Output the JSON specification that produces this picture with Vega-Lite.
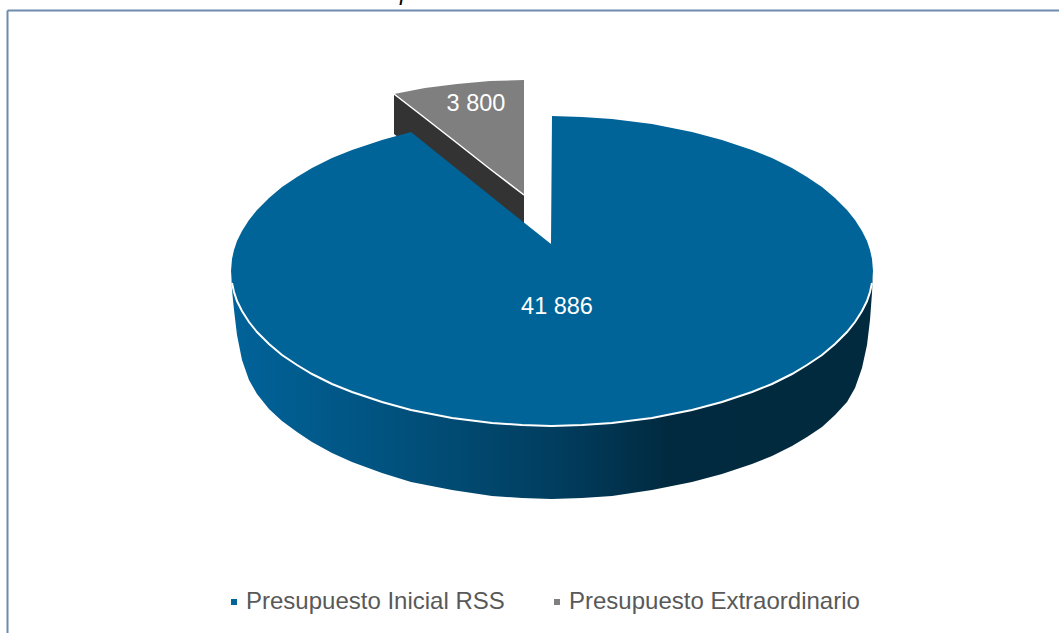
{
"$schema":"https://vega.github.io/schema/vega-lite/v6.json",
"width":1052,"height":623,
"padding":{"left":7,"top":10,"right":0,"bottom":0},
"autosize":{"type":"none"},
"background":"white",
"config":{"view":{"stroke":null},"font":"Liberation Sans"},
"datasets":{
"outline":[
{"slice":"Presupuesto Inicial RSS","x":231,"top":271,"bottom":271,"base":271},
{"slice":"Presupuesto Inicial RSS","x":232,"top":259,"bottom":283,"base":290},
{"slice":"Presupuesto Inicial RSS","x":234,"top":250,"bottom":292,"base":310},
{"slice":"Presupuesto Inicial RSS","x":237,"top":241,"bottom":301,"base":335},
{"slice":"Presupuesto Inicial RSS","x":242,"top":231,"bottom":311,"base":360},
{"slice":"Presupuesto Inicial RSS","x":249,"top":220,"bottom":322,"base":380},
{"slice":"Presupuesto Inicial RSS","x":257,"top":210,"bottom":332,"base":394},
{"slice":"Presupuesto Inicial RSS","x":269,"top":198,"bottom":344,"base":409},
{"slice":"Presupuesto Inicial RSS","x":282,"top":187,"bottom":355,"base":421},
{"slice":"Presupuesto Inicial RSS","x":297,"top":177,"bottom":365,"base":432},
{"slice":"Presupuesto Inicial RSS","x":312,"top":168,"bottom":374,"base":442},
{"slice":"Presupuesto Inicial RSS","x":332,"top":158,"bottom":384,"base":453},
{"slice":"Presupuesto Inicial RSS","x":352,"top":150,"bottom":392,"base":462},
{"slice":"Presupuesto Inicial RSS","x":382,"top":140,"bottom":402,"base":473},
{"slice":"Presupuesto Inicial RSS","x":411,"top":132,"bottom":410,"base":482},
{"slice":"Presupuesto Inicial RSS","x":452,"top":165,"bottom":418,"base":490},
{"slice":"Presupuesto Inicial RSS","x":492,"top":197,"bottom":423,"base":496},
{"slice":"Presupuesto Inicial RSS","x":522,"top":221,"bottom":425,"base":498},
{"slice":"Presupuesto Inicial RSS","x":551,"top":244,"bottom":426,"base":499},
{"slice":"Presupuesto Inicial RSS","x":552,"top":116,"bottom":426,"base":499},
{"slice":"Presupuesto Inicial RSS","x":582,"top":117,"bottom":425,"base":498},
{"slice":"Presupuesto Inicial RSS","x":612,"top":119,"bottom":423,"base":496},
{"slice":"Presupuesto Inicial RSS","x":652,"top":124,"bottom":418,"base":490},
{"slice":"Presupuesto Inicial RSS","x":692,"top":132,"bottom":410,"base":482},
{"slice":"Presupuesto Inicial RSS","x":722,"top":140,"bottom":402,"base":474},
{"slice":"Presupuesto Inicial RSS","x":752,"top":150,"bottom":392,"base":464},
{"slice":"Presupuesto Inicial RSS","x":772,"top":158,"bottom":384,"base":456},
{"slice":"Presupuesto Inicial RSS","x":792,"top":168,"bottom":374,"base":446},
{"slice":"Presupuesto Inicial RSS","x":807,"top":177,"bottom":365,"base":437},
{"slice":"Presupuesto Inicial RSS","x":822,"top":187,"bottom":355,"base":427},
{"slice":"Presupuesto Inicial RSS","x":835,"top":198,"bottom":344,"base":415},
{"slice":"Presupuesto Inicial RSS","x":847,"top":210,"bottom":332,"base":402},
{"slice":"Presupuesto Inicial RSS","x":855,"top":220,"bottom":322,"base":388},
{"slice":"Presupuesto Inicial RSS","x":862,"top":231,"bottom":311,"base":368},
{"slice":"Presupuesto Inicial RSS","x":867,"top":241,"bottom":301,"base":345},
{"slice":"Presupuesto Inicial RSS","x":870,"top":250,"bottom":292,"base":320},
{"slice":"Presupuesto Inicial RSS","x":872,"top":259,"bottom":283,"base":293},
{"slice":"Presupuesto Inicial RSS","x":873,"top":271,"bottom":271,"base":271},
{"slice":"Presupuesto Extraordinario","x":394,"top":94,"bottom":94,"base":134},
{"slice":"Presupuesto Extraordinario","x":425,"top":88,"bottom":118,"base":158},
{"slice":"Presupuesto Extraordinario","x":457,"top":84,"bottom":143,"base":183},
{"slice":"Presupuesto Extraordinario","x":490,"top":81,"bottom":169,"base":209},
{"slice":"Presupuesto Extraordinario","x":524,"top":80,"bottom":195,"base":235}
],
"labels":[
{"slice":"Presupuesto Inicial RSS","value":41886,"label":"41 886","x":557,"y":307},
{"slice":"Presupuesto Extraordinario","value":3800,"label":"3 800","x":476,"y":104}
],
"fragment":[{"text":"p","x":400,"y":0}]
},
"encoding":{
"x":{"field":"x","type":"quantitative","scale":{"domain":[7,1059],"nice":false,"zero":false},"axis":{"orient":"top","title":null,"labels":false,"ticks":false,"grid":false,"domain":true,"domainColor":"#6d8cab","domainWidth":2}},
"y":{"field":"top","type":"quantitative","scale":{"domain":[10,633],"nice":false,"zero":false,"reverse":true},"axis":{"orient":"left","title":null,"labels":false,"ticks":false,"grid":false,"domain":true,"domainColor":"#6d8cab","domainWidth":2}}
},
"layer":[
{"data":{"name":"outline"},"transform":[{"filter":"datum.slice==='Presupuesto Extraordinario'"}],
 "mark":{"type":"area","color":"#333333","clip":false},
 "encoding":{"y":{"field":"bottom","type":"quantitative"},"y2":{"field":"base"}}},
{"data":{"name":"outline"},"transform":[{"filter":"datum.slice==='Presupuesto Inicial RSS'"}],
 "mark":{"type":"area","color":{"gradient":"linear","x1":0,"x2":1,"y1":0,"y2":0,"stops":[{"offset":0,"color":"#01639a"},{"offset":0.25,"color":"#01527e"},{"offset":0.5,"color":"#013e60"},{"offset":0.68,"color":"#012a40"},{"offset":1,"color":"#012a3e"}]}},
 "encoding":{"y":{"field":"bottom","type":"quantitative"},"y2":{"field":"base"}}},
{"data":{"name":"outline"},
 "mark":{"type":"area"},
 "encoding":{"y2":{"field":"bottom"},"detail":{"field":"slice"},
  "color":{"field":"slice","type":"nominal","scale":{"domain":["Presupuesto Inicial RSS","Presupuesto Extraordinario"],"range":["#006498","#7f7f7f"]},
   "legend":{"title":null,"orient":"none","legendX":215,"legendY":580,"direction":"horizontal","columns":2,"symbolType":"square","symbolSize":36,"symbolOpacity":1,"symbolStrokeWidth":0,"labelFont":"Liberation Sans","labelFontSize":24,"labelColor":"#595959","labelLimit":400,"columnPadding":40,"labelOffset":0}}}},
{"data":{"name":"outline"},"transform":[{"filter":"datum.slice==='Presupuesto Inicial RSS' && datum.x>=232 && datum.x<=872"}],
 "mark":{"type":"line","color":"#ffffff","strokeWidth":2},
 "encoding":{"y":{"field":"bottom","type":"quantitative"}}},
{"data":{"name":"outline"},"transform":[{"filter":"datum.slice==='Presupuesto Extraordinario'"}],
 "mark":{"type":"line","color":"#ffffff","strokeWidth":1.5},
 "encoding":{"y":{"field":"bottom","type":"quantitative"}}},
{"data":{"name":"labels"},
 "mark":{"type":"text","color":"#ffffff","fontSize":23.5,"font":"Liberation Sans","align":"center","baseline":"middle"},
 "encoding":{"y":{"field":"y","type":"quantitative"},"text":{"field":"label"}}},
{"data":{"name":"fragment"},
 "mark":{"type":"text","color":"#000000","fontSize":23,"font":"Liberation Sans","fontStyle":"italic","align":"left","baseline":"alphabetic","clip":false},
 "encoding":{"y":{"field":"y","type":"quantitative"},"text":{"field":"text"}}}
]
}
